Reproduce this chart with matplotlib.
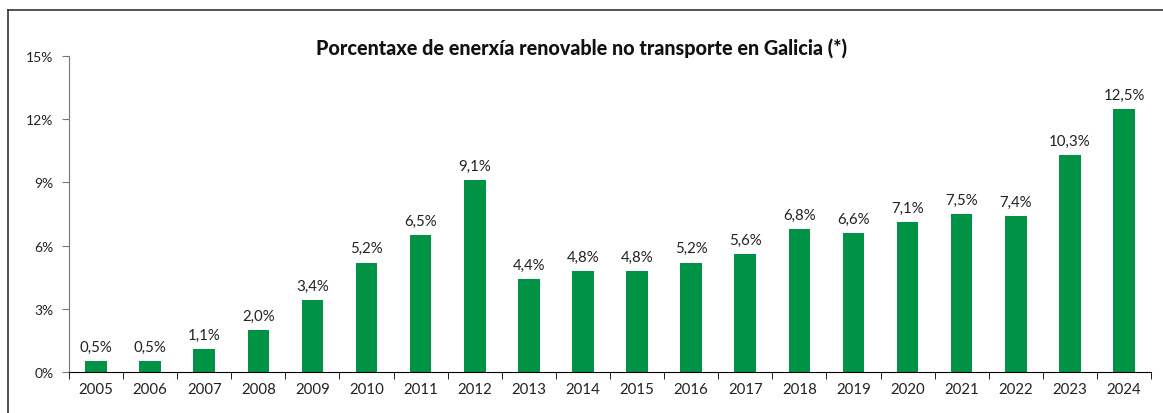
import matplotlib.pyplot as plt
from matplotlib.lines import Line2D

years = [str(y) for y in range(2005, 2025)]
values = [0.5, 0.5, 1.1, 2.0, 3.4, 5.2, 6.5, 9.1, 4.4, 4.8, 4.8, 5.2, 5.6, 6.8, 6.6, 7.1, 7.5, 7.4, 10.3, 12.5]
labels = ["0,5%", "0,5%", "1,1%", "2,0%", "3,4%", "5,2%", "6,5%", "9,1%", "4,4%", "4,8%",
          "4,8%", "5,2%", "5,6%", "6,8%", "6,6%", "7,1%", "7,5%", "7,4%", "10,3%", "12,5%"]
yticks = [0, 3, 6, 9, 12, 15]

plt.rcParams['font.family'] = ['Lato', 'DejaVu Sans']

fig = plt.figure(figsize=(11.63, 4.14), dpi=100)
ax = fig.add_axes([0.0593, 0.099, 0.9304, 0.763])

x = list(range(len(years)))
bars = ax.bar(x, values, width=0.4, color='#009245', zorder=2)
for xi, v, lab in zip(x, values, labels):
    ax.text(xi, v + 0.35, lab, ha='center', va='bottom', fontsize=10.8, color='#222222')

ax.set_xlim(-0.5, len(years) - 0.5)
ax.set_ylim(0, 15)
ax.set_yticks(yticks)
ax.set_yticklabels([f"{t}%" for t in yticks], fontsize=10, color='#222222')
ax.set_xticks(x)
ax.set_xticklabels(years, fontsize=10.8, color='#222222')
ax.tick_params(axis='x', length=0, pad=7)
ax.set_xticks([i - 0.5 for i in range(len(years) + 1)], minor=True)
ax.tick_params(axis='x', which='minor', length=5, color='black', direction='out')
ax.tick_params(axis='y', length=5, color='#777777', pad=6)

for s in ['top', 'right']:
    ax.spines[s].set_visible(False)
ax.spines['left'].set_color('#777777')
ax.spines['bottom'].set_color('black')

fig.text(0.5, 0.885, "Porcentaxe de enerxía renovable no transporte en Galicia (*)",
         ha='center', va='center', fontsize=14.2, fontweight='black', color='#111111')

# frame round the chart
fig.add_artist(Line2D([8 / 1163, 8 / 1163], [0, 1 - 11 / 414], color='#333333', lw=1.2))
fig.add_artist(Line2D([8 / 1163, 1], [1 - 11 / 414, 1 - 11 / 414], color='#333333', lw=1.2))

fig.savefig('out.png', dpi=100)
